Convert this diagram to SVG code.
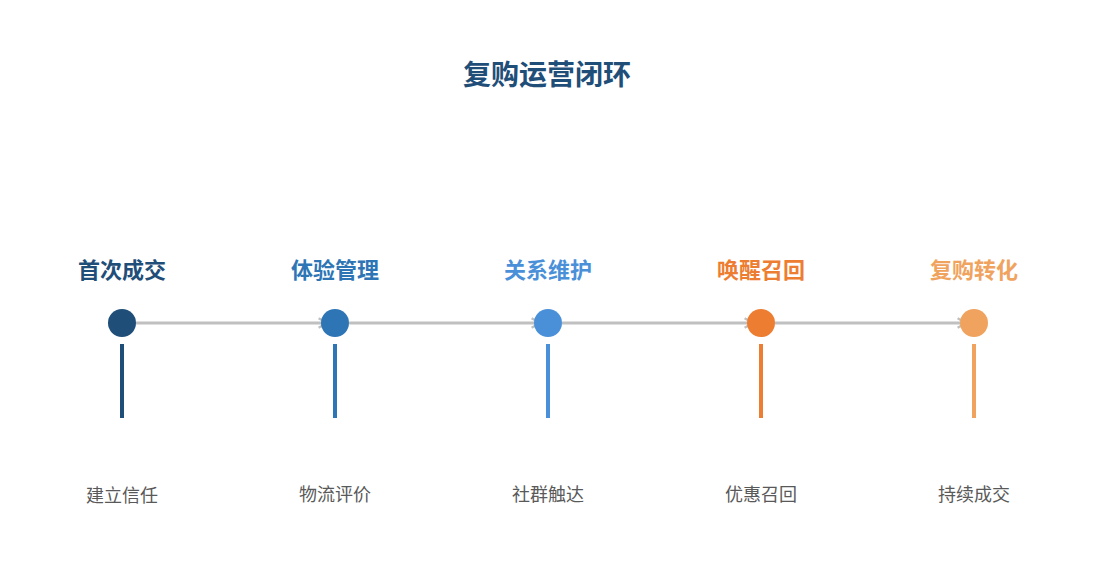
<svg xmlns="http://www.w3.org/2000/svg" width="1095" height="585" viewBox="0 0 1095 585">
<style>
text{font-family:"Noto Sans CJK SC","Noto Sans",sans-serif;text-anchor:middle}
.t{font-size:22px;font-weight:bold}
.s{font-size:18px;fill:#595959}
.c{stroke:#c0c0c0;stroke-width:3;fill:none}
</style>
<defs><marker id="a" viewBox="0 0 10 10" refX="8" refY="5" markerWidth="4" markerHeight="4" orient="auto"><path d="M1,1 L8,5 L1,9" fill="none" stroke="#c0c0c0" stroke-width="2"/></marker></defs>
<rect width="1095" height="585" fill="#fff"/>
<text x="547" y="85" font-size="28" font-weight="bold" fill="#1f4e79" style="font-size:28px">复购运营闭环</text>
<g id="connectors">
<line class="c" x1="136" y1="323" x2="327" y2="323" marker-end="url(#a)"/>
<line class="c" x1="349" y1="323" x2="540" y2="323" marker-end="url(#a)"/>
<line class="c" x1="562" y1="323" x2="753" y2="323" marker-end="url(#a)"/>
<line class="c" x1="775" y1="323" x2="966" y2="323" marker-end="url(#a)"/>
</g>
<g id="n1"><text class="t" x="122" y="278" fill="#1f4e79">首次成交</text><circle cx="122" cy="323" r="14" fill="#1f4e79"/><rect x="120" y="344" width="4" height="74" fill="#1f4e79"/><text class="s" x="122" y="502">建立信任</text></g>
<g id="n2"><text class="t" x="335" y="278" fill="#2e75b6">体验管理</text><circle cx="335" cy="323" r="14" fill="#2e75b6"/><rect x="333" y="344" width="4" height="74" fill="#2e75b6"/><text class="s" x="335" y="501">物流评价</text></g>
<g id="n3"><text class="t" x="548" y="278" fill="#4a90d9">关系维护</text><circle cx="548" cy="323" r="14" fill="#4a90d9"/><rect x="546" y="344" width="4" height="74" fill="#4a90d9"/><text class="s" x="548" y="501">社群触达</text></g>
<g id="n4"><text class="t" x="761" y="278" fill="#ed7d31">唤醒召回</text><circle cx="761" cy="323" r="14" fill="#ed7d31"/><rect x="759" y="344" width="4" height="74" fill="#ed7d31"/><text class="s" x="761" y="501">优惠召回</text></g>
<g id="n5"><text class="t" x="974" y="278" fill="#f0a35e">复购转化</text><circle cx="974" cy="323" r="14" fill="#f0a35e"/><rect x="972" y="344" width="4" height="74" fill="#f0a35e"/><text class="s" x="974" y="501">持续成交</text></g>
</svg>
